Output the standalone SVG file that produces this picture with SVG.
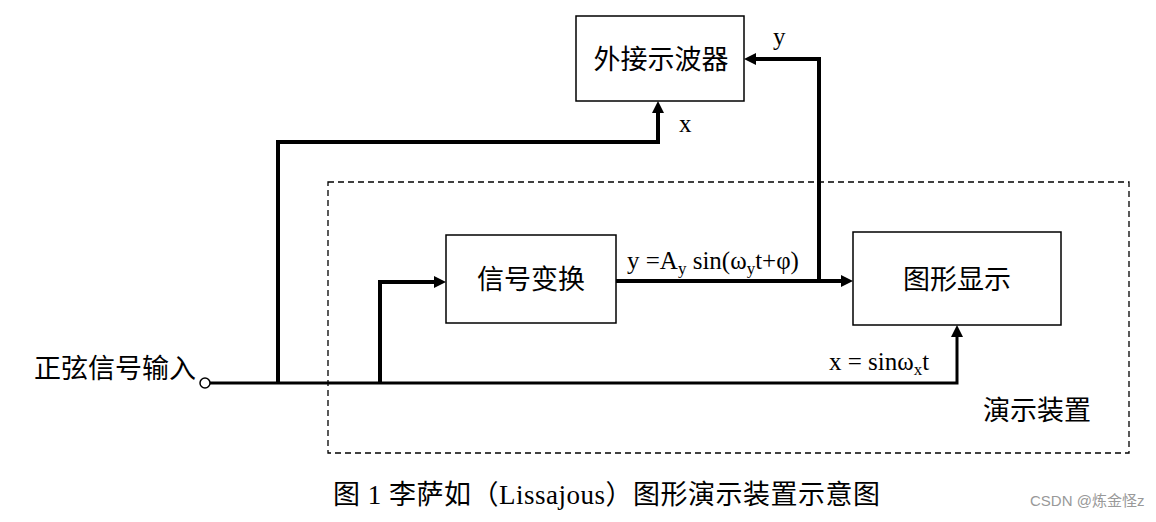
<svg xmlns="http://www.w3.org/2000/svg" width="1156" height="522" viewBox="0 0 1156 522">
<style>
.box{fill:#fff;stroke:#000;stroke-width:1.5}
.cn{font-family:"Noto Sans CJK SC","Noto Sans",sans-serif;font-size:27px;fill:#000}
.tm{font-family:"Liberation Serif","Noto Sans CJK SC",serif;font-size:25px;fill:#000}
.wire{fill:none;stroke:#000;stroke-width:4}
.thin{fill:none;stroke:#000;stroke-width:3}
</style>
<rect width="1156" height="522" fill="#fff"/>
<g id="device-frame">
<rect x="328" y="182" width="801" height="271" fill="none" stroke="#000" stroke-width="1.3" stroke-dasharray="6,4"/>
<text class="cn" x="983" y="420">演示装置</text>
</g>
<g id="connectors">
<path class="thin" d="M210,383 H957 V336"/>
<path class="wire" d="M278,383 V142 H658 V112"/>
<path d="M658,101 L652,113 L664,113 Z" fill="#000"/>
<path class="wire" d="M380,383 V282 H435"/>
<path d="M446,282 L434,276 L434,288 Z" fill="#000"/>
<path class="wire" d="M616,281 H842"/>
<path d="M853,281 L841,275 L841,287 Z" fill="#000"/>
<path class="wire" d="M819,281 V59 H755"/>
<path d="M744,59 L756,53 L756,65 Z" fill="#000"/>
<path d="M957,325 L951,337 L963,337 Z" fill="#000"/>
<text class="tm" x="679" y="132">x</text>
<text class="tm" x="773" y="45">y</text>
<text class="tm" x="627" y="269">y =A<tspan font-size="17" dy="5">y</tspan><tspan dy="-5"> sin(ω</tspan><tspan font-size="17" dy="5">y</tspan><tspan dy="-5">t+φ)</tspan></text>
<text class="tm" x="829" y="370">x = sinω<tspan font-size="17" dy="5">x</tspan><tspan dy="-5">t</tspan></text>
</g>
<g id="input">
<circle cx="205" cy="383" r="5" fill="#fff" stroke="#000" stroke-width="1.5"/>
<text class="cn" x="34" y="378">正弦信号输入</text>
</g>
<g id="oscilloscope">
<rect class="box" x="576" y="16" width="168" height="85"/>
<text class="cn" x="661" y="69" text-anchor="middle" font-size="25">外接示波器</text>
</g>
<g id="signal-transform">
<rect class="box" x="446" y="235" width="170" height="88"/>
<text class="cn" x="531" y="289" text-anchor="middle">信号变换</text>
</g>
<g id="figure-display">
<rect class="box" x="853" y="232" width="208" height="93"/>
<text class="cn" x="957" y="289" text-anchor="middle">图形显示</text>
</g>
<g id="caption">
<text x="333" y="504" font-family="Liberation Serif,'Noto Sans CJK SC',serif" font-size="27" fill="#000" textLength="547" lengthAdjust="spacing">图 1 李萨如（Lissajous）图形演示装置示意图</text>
<text x="1030" y="506" font-family="'Liberation Sans','Noto Sans CJK SC',sans-serif" font-size="15" fill="#999">CSDN @炼金怪z</text>
</g>
</svg>
